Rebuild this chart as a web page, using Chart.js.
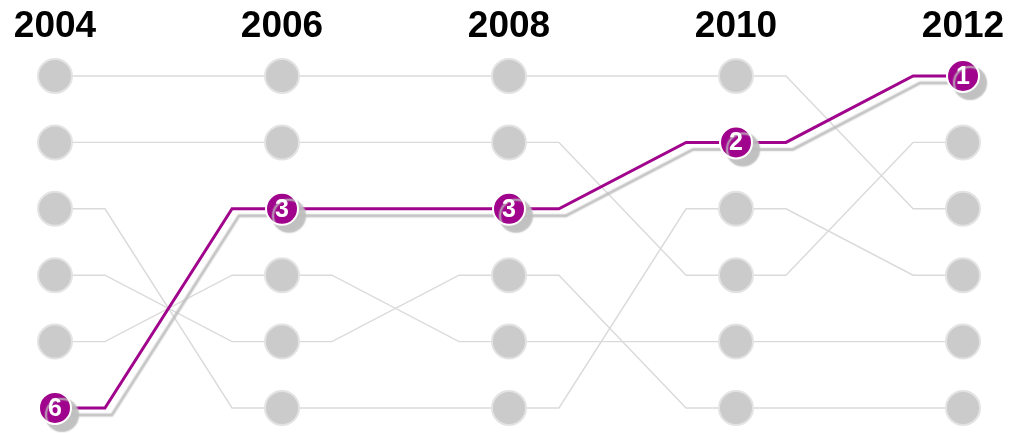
<!DOCTYPE html>
<html>
<head>
<meta charset="utf-8">
<script src="https://cdn.jsdelivr.net/npm/chart.js@4/dist/chart.umd.min.js"></script>
<style>
    html, body { margin: 0; padding: 0; background: #ffffff; }
    #bump { display: block; }
</style>
</head>
<body>
<canvas id="bump" width="1009" height="433"></canvas>
<script>
// Années (colonnes) et rangs
const years = ["2004", "2006", "2008", "2010", "2012"];
const highlightRanks = [6, 3, 3, 2, 1];
const greyRanksA = [1, 1, 1, 1, 3];
const greyRanksB = [2, 2, 2, 4, 2];
const greyRanksC = [3, 6, 6, 3, 4];
const greyRanksD = [4, 5, 4, 6, 6];
const greyRanksE = [5, 4, 5, 5, 5];
const greySeries = [greyRanksA, greyRanksB, greyRanksC, greyRanksD, greyRanksE];

const PURPLE = "#a0048c";
const SHOULDER = 0.22; // palier horizontal de chaque côté du noeud

// palier horizontal, diagonale, palier horizontal
function buildPath(ranks) {
    const pts = [];
    ranks.forEach((r, i) => {
        if (i > 0) pts.push({ x: i - SHOULDER, y: r, node: false });
        pts.push({ x: i, y: r, node: true });
        if (i < ranks.length - 1) pts.push({ x: i + SHOULDER, y: r, node: false });
    });
    return pts;
}

const greyDatasets = greySeries.map((ranks) => ({
    data: buildPath(ranks),
    borderColor: "#dadada",
    borderWidth: 1.4,
    pointRadius: (c) => (c.raw && c.raw.node ? 17 : 0),
    pointBackgroundColor: "#cbcbcb",
    pointBorderColor: "#e3e3e3",
    pointBorderWidth: 2,
    tension: 0,
    order: 1,
    clip: false,
}));

const highlightDataset = {
    data: buildPath(highlightRanks),
    borderColor: PURPLE,
    borderWidth: 3,
    borderJoinStyle: "miter",
    pointRadius: (c) => (c.raw && c.raw.node ? 16 : 0),
    pointBackgroundColor: PURPLE,
    pointBorderColor: "#ffffff",
    pointBorderWidth: 2,
    tension: 0,
    order: 0,
    clip: false,
    isHighlight: true,
};

// ombre grise décalée sous la série mise en avant
const shadowPlugin = {
    id: "shadowPlugin",
    beforeDatasetDraw(chart, args) {
        if (!args.meta._dataset.isHighlight) return;
        const ctx = chart.ctx;
        ctx.save();
        ctx.shadowColor = "rgba(190,190,190,0.95)";
        ctx.shadowOffsetX = 7;
        ctx.shadowOffsetY = 7;
        ctx.shadowBlur = 1.5;
    },
    afterDatasetDraw(chart, args) {
        if (!args.meta._dataset.isHighlight) return;
        chart.ctx.restore();
    },
};

// années en haut + rangs dans les pastilles violettes
const labelPlugin = {
    id: "labelPlugin",
    afterDatasetsDraw(chart) {
        const ctx = chart.ctx;
        const xs = chart.scales.x;
        const ys = chart.scales.y;
        ctx.save();
        ctx.fillStyle = "#000000";
        ctx.textAlign = "center";
        ctx.textBaseline = "middle";
        ctx.font = "bold 37px 'Liberation Sans', Arial, sans-serif";
        years.forEach((yr, i) => {
            ctx.fillText(yr, xs.getPixelForValue(i), 27);
        });
        ctx.fillStyle = "#ffffff";
        ctx.font = "bold 25px 'Liberation Sans', Arial, sans-serif";
        highlightRanks.forEach((r, i) => {
            ctx.fillText(String(r), xs.getPixelForValue(i), ys.getPixelForValue(r) + 1);
        });
        ctx.restore();
    },
};

new Chart(document.getElementById("bump").getContext("2d"), {
    type: "line",
    data: { datasets: [highlightDataset, ...greyDatasets] },
    options: {
        responsive: false,
        animation: false,
        events: [],
        layout: { padding: 0, autoPadding: false },
        plugins: { legend: { display: false }, tooltip: { enabled: false } },
        scales: {
            x: { type: "linear", min: -0.2423, max: 4.2026, display: false },
            y: { type: "linear", reverse: true, min: -0.145, max: 6.377, display: false },
        },
    },
    plugins: [shadowPlugin, labelPlugin],
});
</script>
</body>
</html>
